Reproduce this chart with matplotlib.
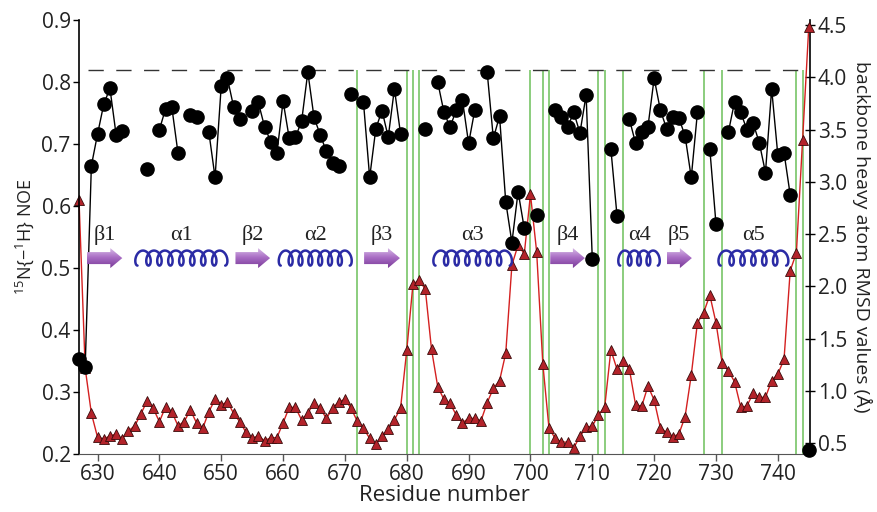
import numpy as np
import matplotlib
matplotlib.use('Agg')
import matplotlib.pyplot as plt
from matplotlib.patches import Polygon
from matplotlib.colors import LinearSegmentedColormap

plt.rcParams['font.family'] = ['Open Sans', 'DejaVu Sans']
plt.rcParams['mathtext.fontset'] = 'custom'
plt.rcParams['mathtext.rm'] = 'Open Sans'
plt.rcParams['mathtext.it'] = 'Open Sans:italic'

nan = np.nan
residues = np.arange(627, 746)

# {15N-1H} NOE (left axis), nan = no data
noe = [0.354, 0.341, 0.665, 0.716, 0.764, 0.790, 0.715, 0.721, nan, nan,
       nan, 0.660, nan, 0.723, 0.757, 0.760, 0.686, nan, 0.747, 0.744,
       nan, 0.719, 0.646, 0.794, 0.806, 0.760, 0.740, nan, 0.753, 0.767,
       0.728, 0.704, 0.685, 0.769, 0.709, 0.711, 0.737, 0.816, 0.743, 0.715,
       0.688, 0.669, 0.665, nan, 0.781, nan, 0.767, 0.646, 0.725, 0.754,
       0.711, 0.789, 0.716, nan, nan, nan, 0.724, nan, 0.800, 0.752,
       0.727, 0.755, 0.771, 0.701, 0.755, nan, 0.816, 0.709, 0.745, 0.607,
       0.541, 0.623, 0.564, nan, 0.585, nan, nan, 0.755, 0.743, 0.727,
       0.751, 0.718, 0.779, 0.514, nan, nan, 0.692, 0.584, nan, 0.740,
       0.701, 0.719, 0.728, 0.806, 0.755, 0.725, 0.743, 0.742, 0.713, 0.646,
       0.751, nan, 0.692, 0.571, nan, 0.719, 0.768, 0.751, 0.723, 0.734,
       0.702, 0.654, 0.789, 0.682, 0.686, 0.618, nan, nan, 0.206]

# backbone heavy atom RMSD (right axis)
rmsd = [2.83, 1.215, 0.784, 0.555, 0.540, 0.567, 0.586, 0.538, 0.618, 0.663,
        0.777, 0.902, 0.832, 0.704, 0.847, 0.800, 0.666, 0.704, 0.816, 0.694,
        0.641, 0.800, 0.918, 0.864, 0.895, 0.784, 0.704, 0.603, 0.545, 0.570,
        0.522, 0.551, 0.551, 0.694, 0.841, 0.841, 0.720, 0.784, 0.886, 0.832,
        0.736, 0.832, 0.895, 0.918, 0.832, 0.708, 0.640, 0.545, 0.490, 0.564,
        0.630, 0.720, 0.837, 1.390, 2.020, 2.060, 1.970, 1.397, 1.040, 0.918,
        0.880, 0.768, 0.694, 0.736, 0.736, 0.713, 0.886, 1.023, 1.096, 1.358,
        2.203, 2.395, 2.310, 2.880, 2.330, 1.256, 0.640, 0.545, 0.512, 0.507,
        0.455, 0.563, 0.650, 0.663, 0.768, 0.842, 1.390, 1.205, 1.288, 1.205,
        0.864, 0.854, 1.045, 0.911, 0.646, 0.602, 0.560, 0.586, 0.752, 1.150,
        1.651, 1.747, 1.916, 1.651, 1.263, 1.190, 1.087, 0.842, 0.854, 0.976,
        0.937, 0.937, 1.096, 1.160, 1.300, 2.149, 2.320, 3.400, 4.480]

# residues marked with green lines
marked = [672, 680, 681, 682, 700, 702, 703, 711, 712, 715, 728, 731, 743, 744]
noe_cutoff = 0.82

# secondary structure elements (turns = 0 -> strand arrow)
ss_names = ['β1', 'α1', 'β2', 'α2', 'β3', 'α3', 'β4', 'α4', 'β5', 'α5']
ss_start = [628.3, 636.1, 652.3, 659.3, 673.1, 684.3, 703.2, 714.2, 722.0, 730.4]
ss_end = [634.0, 651.0, 657.9, 671.1, 678.9, 697.0, 708.8, 720.9, 726.1, 741.7]
ss_turns = [0, 8, 0, 7, 0, 7, 0, 4, 0, 6]

fig = plt.figure(figsize=(8.78, 5.12), dpi=100)
ax = fig.add_axes([79 / 878, 1 - 454 / 512, (810 - 79) / 878, (454 - 20) / 512])
ax2 = ax.twinx()
ax.set_zorder(ax2.get_zorder() + 1)
ax.patch.set_visible(False)

# green lines + cutoff line (behind the data)
ax2.vlines(marked, 0.2, noe_cutoff, colors='#6cc05a', lw=1.1,
           transform=ax.transData, zorder=1)
ax2.plot([628.5, 744.3], [noe_cutoff, noe_cutoff], color='#333333', lw=1.0,
         dashes=(11, 9), transform=ax.transData, zorder=1)

# RMSD
ax2.plot(residues, rmsd, color='#d42020', lw=1.0, marker='^', ms=7.5,
         mfc='#b3232a', mec='#3a0a0a', mew=0.6, clip_on=False, zorder=3)

# NOE
ax.plot(residues, noe, color='black', lw=1.0, marker='o', ms=9.5,
        mfc='black', mec='black', clip_on=False, zorder=4)

# secondary structure cartoon
px_x = 1 / 6.19   # residues per pixel
px_y = 0.1 / 62   # NOE units per pixel
y_c = 0.516
grad = np.linspace(0, 1, 64).reshape(-1, 1)
purple = LinearSegmentedColormap.from_list('pp', ['#dcc2ea', '#a86cc4', '#7a3c98'])
for name, s, e, n in zip(ss_names, ss_start, ss_end, ss_turns):
    ax.text((s + e) / 2, 0.553, name, ha='center', va='center', fontsize=16,
            family=['Liberation Serif', 'DejaVu Serif'], color='#222222', zorder=6)
    if n == 0:
        hb, hh, hl = 6 * px_y, 10 * px_y, 12 * px_x
        pts = [(s, y_c - hb), (e - hl, y_c - hb), (e - hl, y_c - hh), (e, y_c),
               (e - hl, y_c + hh), (e - hl, y_c + hb), (s, y_c + hb)]
        poly = Polygon(pts, closed=True, facecolor='none', edgecolor='none', zorder=5)
        ax.add_patch(poly)
        im = ax.imshow(grad, cmap=purple, extent=(s, e, y_c - hh, y_c + hh),
                       aspect='auto', origin='upper', zorder=5)
        im.set_clip_path(poly)
    else:
        th = np.linspace(0, 2 * np.pi * n, 600)
        raw = 0.30 * th - 0.80 * np.sin(th)
        xs = s + (raw - raw.min()) / (raw.max() - raw.min()) * (e - s)
        ys = y_c - 7.5 * px_y * np.cos(th)
        ax.plot(xs, ys, color='#2b2ba5', lw=1.8, zorder=5, solid_capstyle='round')

ax.set_xlim(627, 745.2)
ax.set_ylim(0.2, 0.9)
ax2.set_ylim(0.395, 4.548)

ax.set_xticks(np.arange(630, 741, 10))
ax.set_yticks(np.arange(0.2, 0.91, 0.1))
ax.set_yticklabels([f'{v:.1f}' for v in np.arange(0.2, 0.91, 0.1)])
ax2.set_yticks(np.arange(0.5, 4.51, 0.5))
ax2.set_yticklabels([f'{v:.1f}' for v in np.arange(0.5, 4.51, 0.5)])

for sp in ['top', 'right']:
    ax.spines[sp].set_visible(False)
for sp in ['top', 'left', 'bottom']:
    ax2.spines[sp].set_visible(False)
ax.spines['bottom'].set_color('#555555')
ax.spines['left'].set_linewidth(1.2)
ax2.spines['right'].set_linewidth(1.2)

ax.tick_params(axis='y', direction='out', length=4, width=1, labelsize=15, pad=2,
               labelcolor='#222222')
ax.tick_params(axis='x', direction='out', length=5, width=1, labelsize=15, pad=2,
               color='#555555', labelcolor='#222222')
ax2.tick_params(axis='y', direction='inout', length=7, width=1, labelsize=15, pad=2,
                labelcolor='#222222')

ax.set_xlabel('Residue number', fontsize=16, labelpad=0, color='#222222')
ax.set_ylabel('$^{15}$N{$-^{1}$H} NOE', fontsize=13, labelpad=4, color='#222222')
ax2.set_ylabel('backbone heavy atom RMSD values (Å)', fontsize=14, rotation=270,
               labelpad=18, color='#222222')

fig.savefig('out.png', dpi=100)
